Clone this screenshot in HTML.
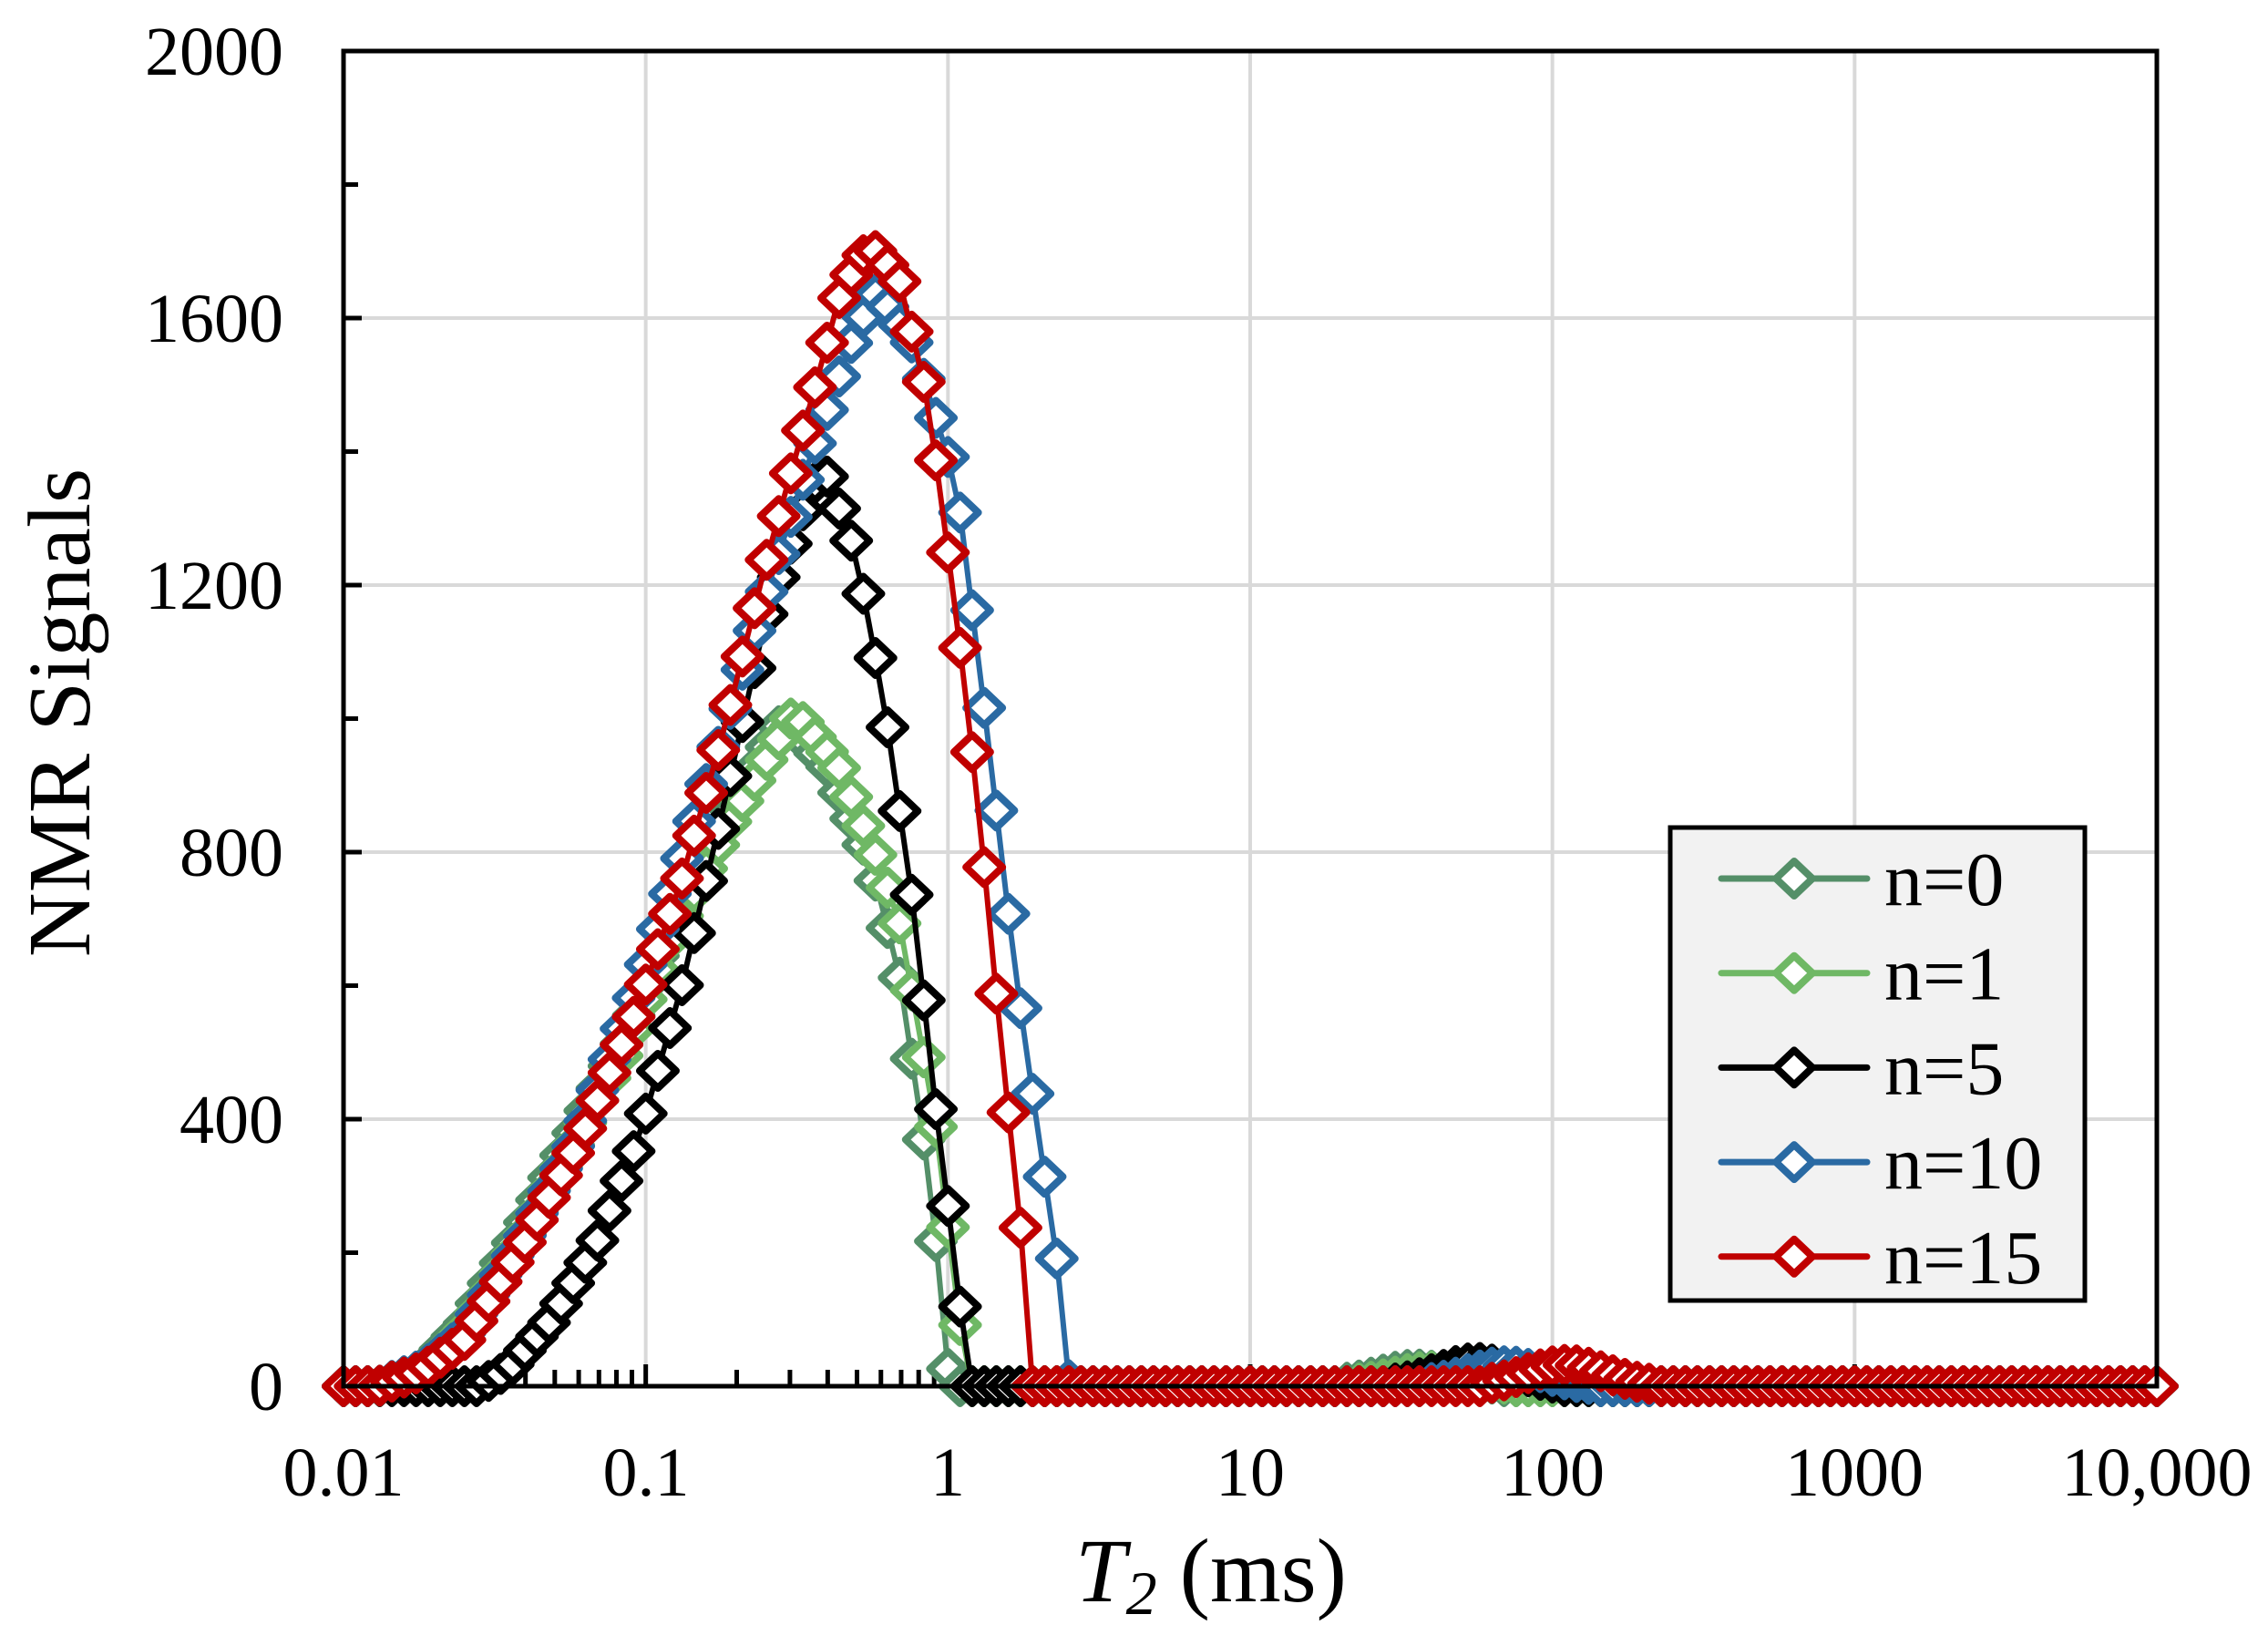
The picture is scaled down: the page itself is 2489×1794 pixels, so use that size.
<!DOCTYPE html>
<html><head><meta charset="utf-8">
<style>html,body{margin:0;padding:0;background:#fff}svg{display:block}</style>
</head><body>
<svg id="s" width="2489" height="1794" viewBox="0 0 2489 1794" xmlns="http://www.w3.org/2000/svg" font-family="Liberation Serif, serif">
<rect width="2489" height="1794" fill="#fff"/>
<g id="grid" stroke="#d9d9d9" stroke-width="4"></g>
<g id="ticks" stroke="#000" stroke-width="5"></g>
<g id="series"></g>
<rect x="377" y="56" width="1990" height="1465" fill="none" stroke="#000" stroke-width="5"/>
<line x1="377" y1="1521" x2="2367" y2="1521" stroke="#000" stroke-width="5"/>
<g font-size="76" text-anchor="end" fill="#000">
<text x="311" y="82">2000</text>
<text x="311" y="375">1600</text>
<text x="311" y="668">1200</text>
<text x="311" y="961">800</text>
<text x="311" y="1254">400</text>
<text x="311" y="1547">0</text>
</g>
<g font-size="76" text-anchor="middle" fill="#000">
<text x="377" y="1641">0.01</text>
<text x="709" y="1641">0.1</text>
<text x="1040" y="1641">1</text>
<text x="1372" y="1641">10</text>
<text x="1704" y="1641">100</text>
<text x="2035" y="1641">1000</text>
<text x="2367" y="1641">10,000</text>
</g>
<text x="1329" y="1757" font-size="100" text-anchor="middle"><tspan font-style="italic">T</tspan><tspan font-style="italic" font-size="68" dy="14">2</tspan><tspan dy="-14"> (ms)</tspan></text>
<text transform="translate(98,782) rotate(-90)" font-size="98" text-anchor="middle">NMR Signals</text>
<rect x="1843" y="913" width="455" height="519" fill="#f2f2f2" stroke="#000" stroke-width="5"/>
<g id="legend" font-size="84"></g>
</svg>
<script>
const L=377,R=2367,T=56,B=1521;
const xs=l=>L+(l+2)*(R-L)/6, ys=v=>B-v*(B-T)/2000;
const ns="http://www.w3.org/2000/svg";
function el(p,t,a){const e=document.createElementNS(ns,t);for(const k in a)e.setAttribute(k,a[k]);p.appendChild(e);return e;}
const g=document.getElementById('grid'),tk=document.getElementById('ticks');
for(let d=1;d<6;d++)el(g,'line',{x1:xs(-2+d),y1:T,x2:xs(-2+d),y2:B});
for(let v=400;v<2000;v+=400)el(g,'line',{x1:L,y1:ys(v),x2:R,y2:ys(v)});
for(let v=200;v<2000;v+=400)el(tk,'line',{x1:L,y1:ys(v),x2:L+16,y2:ys(v)});
for(let v=400;v<2000;v+=400)el(tk,'line',{x1:L,y1:ys(v),x2:L+20,y2:ys(v)});
for(let d=-2;d<4;d++)for(let m=2;m<10;m++){const x=xs(d+Math.log10(m));el(tk,'line',{x1:x,y1:B,x2:x,y2:B-18});}
for(let d=-1;d<4;d++)el(tk,'line',{x1:xs(d),y1:B,x2:xs(d),y2:B-24});
const toL=x=>-2+(x-236)/209;
function K(arr){return arr.map(([x,v])=>[toL(x),v]);}
const S=[
{c:'#548f68',k:K([[236,0],[260,0],[290,25],[320,95],[360,240],[400,400],[430,520],[460,680],[500,850],[540,1000],[570,930],[600,790],[620,620],[640,330],[650,130],[655,0]]),b:[1.55,25],lab:'n=0'},
{c:'#6fb865',k:K([[236,0],[262,0],[292,25],[322,90],[362,230],[402,390],[432,510],[462,670],[502,840],[548,1010],[578,930],[605,790],[620,700],[645,400],[660,130],[668,0]]),b:[1.6,22],lab:'n=1'},
{c:'#000000',k:K([[236,0],[330,0],[350,25],[380,100],[410,210],[440,370],[470,600],[500,880],[530,1170],[560,1350],[570,1365],[590,1250],[610,1020],[630,720],[650,330],[660,180],[667,0]]),b:[1.75,35],lab:'n=5'},
{c:'#2a6aa3',k:K([[236,0],[260,0],[290,25],[320,80],[360,220],[400,380],[440,600],[470,790],[500,990],[530,1200],[560,1400],[590,1580],[605,1640],[630,1560],[660,1350],[680,1000],[700,630],[715,400],[730,180],[738,0]]),b:[1.85,30],lab:'n=10'},
{c:'#c00000',k:K([[236,0],[260,0],[290,22],[320,70],[360,210],[400,370],[440,570],[470,760],[500,990],[530,1250],[560,1480],[580,1640],[600,1710],[620,1660],[640,1480],[660,1150],[675,870],[690,530],[705,220],[712,0]]),b:[2.05,32],lab:'n=15'}];
function interp(k,l){if(l<=k[0][0])return 0;if(l>=k[k.length-1][0])return 0;for(let i=1;i<k.length;i++)if(l<=k[i][0]){const a=k[i-1],b=k[i];return a[1]+(b[1]-a[1])*(l-a[0])/(b[0]-a[0]);}return 0;}
const sg=document.getElementById('series');
const N=151;
function dia(p,x,y,c){el(p,'path',{d:`M${x-20},${y}L${x},${y-19}L${x+20},${y}L${x},${y+19}Z`,fill:'#fff',stroke:c,'stroke-width':8,'stroke-linejoin':'round'});}
S.forEach(s=>{const pts=[];for(let i=0;i<N;i++){const l=-2+6*i/(N-1);let v=interp(s.k,l);let bb=s.b[1]*Math.exp(-Math.pow(l-s.b[0],2)/(2*0.13*0.13));if(bb>3)v+=bb;pts.push([xs(l),ys(v)]);}
const gg=el(sg,'g',{});el(gg,'polyline',{points:pts.map(p=>p.join(',')).join(' '),fill:'none',stroke:s.c,'stroke-width':6,'stroke-linejoin':'round'});
pts.forEach(p=>dia(gg,p[0],p[1],s.c));});
const lg=document.getElementById('legend');
S.forEach((s,i)=>{const y=964+i*103.7;el(lg,'line',{x1:1889,y1:y,x2:2049,y2:y,stroke:s.c,'stroke-width':7,'stroke-linecap':'round'});dia(lg,1969,y,s.c);const t=el(lg,'text',{x:2068,y:y+29});t.textContent=s.lab;});
document.querySelector('rect[fill="#f2f2f2"]').setAttribute('x','1833');
document.querySelector('rect[fill="#f2f2f2"]').setAttribute('y','908');
</script>
</body></html>
